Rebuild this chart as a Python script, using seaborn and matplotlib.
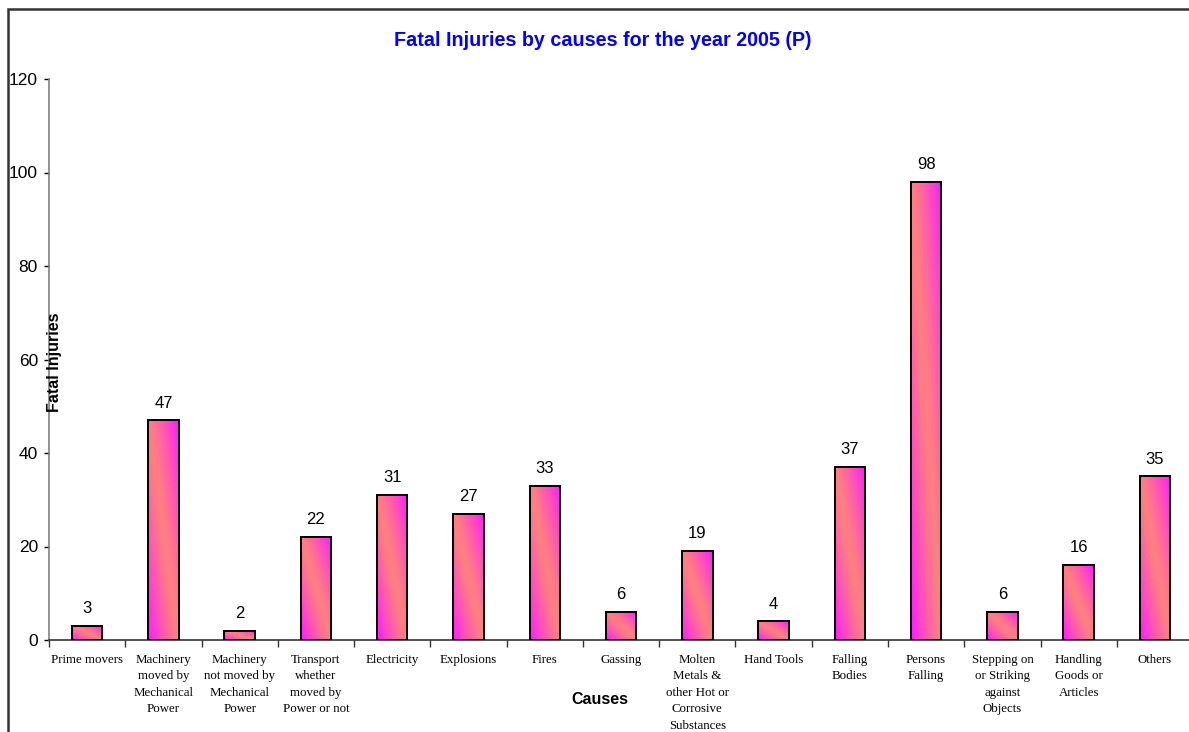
import numpy as np
import pandas as pd
import matplotlib
matplotlib.use("Agg")
import matplotlib.pyplot as plt
from matplotlib.patches import Rectangle
from matplotlib.colors import to_rgb
import seaborn as sns

# Fatal injuries by cause, 2005 (provisional)
causes = [
    "Prime movers",
    "Machinery\nmoved by\nMechanical\nPower",
    "Machinery\nnot moved by\nMechanical\nPower",
    "Transport\nwhether\nmoved by\nPower or not",
    "Electricity",
    "Explosions",
    "Fires",
    "Gassing",
    "Molten\nMetals &\nother Hot or\nCorrosive\nSubstances",
    "Hand Tools",
    "Falling\nBodies",
    "Persons\nFalling",
    "Stepping on\nor Striking\nagainst\nObjects",
    "Handling\nGoods or\nArticles",
    "Others",
]
fatal_injuries = [3, 47, 2, 22, 31, 27, 33, 6, 19, 4, 37, 98, 6, 16, 35]
y_ticks = [0, 20, 40, 60, 80, 100, 120]

SANS = "Liberation Sans"
SERIF = "Liberation Serif"
SALMON = to_rgb("#FF8080")
MAGENTA = to_rgb("#FF1AFF")

df = pd.DataFrame({"cause": causes, "count": fatal_injuries})

W, H = 1189, 732
fig = plt.figure(figsize=(W / 100, H / 100), dpi=100)
fig.patch.set_facecolor("white")

# axes: left spine at x=49 px, category step ~76.3 px (right end runs past the canvas)
ax_left, ax_right = 49, 49 + 15 * 76.27
ax_bottom, ax_top = 640, 79
ax = fig.add_axes([ax_left / W, (H - ax_bottom) / H,
                   (ax_right - ax_left) / W, (ax_bottom - ax_top) / H])

sns.barplot(data=df, x="cause", y="count", ax=ax, width=0.4,
            color="#FF8080", edgecolor="black", linewidth=1.4,
            saturation=1, zorder=3)

# diagonal two-colour gradient fill inside every bar
n = 64
u = np.linspace(0, 1, n)[None, :]
v = np.linspace(0, 1, n)[:, None]
t = np.clip(np.abs(u + v - 1), 0, 1) ** 1.3
grad = (np.array(SALMON)[None, None, :] * (1 - t[..., None])
        + np.array(MAGENTA)[None, None, :] * t[..., None])
for p in ax.patches:
    x0, y0 = p.get_x(), p.get_y()
    w, h = p.get_width(), p.get_height()
    im = ax.imshow(grad, extent=[x0, x0 + w, y0, y0 + h], origin="lower",
                   aspect="auto", zorder=2, interpolation="bilinear")
    im.set_clip_path(p)
    p.set_facecolor("none")
ax.set_xlim(-0.5, len(causes) - 0.5)
ax.set_ylim(0, 120)

# value labels above bars
for i, val in enumerate(fatal_injuries):
    ax.annotate(str(val), (i, val), xytext=(0, 7), textcoords="offset points",
                ha="center", va="bottom", fontsize=12, family=SANS, color="black")

# spines and ticks
for s in ("top", "right"):
    ax.spines[s].set_visible(False)
ax.spines["left"].set_color("#808080")
ax.spines["left"].set_linewidth(1.2)
ax.spines["bottom"].set_color("#333333")
ax.spines["bottom"].set_linewidth(1.2)
ax.set_facecolor("white")

ax.set_yticks(y_ticks)
ax.set_yticklabels([str(v) for v in y_ticks], family=SANS, fontsize=12.5)
ax.tick_params(axis="y", direction="out", length=3.5, width=1, color="black", pad=4.5)

ax.set_xticks(range(len(causes)))
ax.set_xticklabels(causes, family=SERIF, fontsize=9.3, linespacing=1.5, va="top")
ax.set_xticks(np.arange(-0.5, len(causes), 1), minor=True)
ax.tick_params(axis="x", which="major", length=0, pad=10)
ax.tick_params(axis="x", which="minor", direction="out", length=5, width=1, color="#333333")
ax.set_xlabel("")
ax.set_ylabel("")

# titles
fig.text(603 / W, 1 - 41 / H, "Fatal Injuries by causes for the year 2005 (P)",
         ha="center", va="center", color="#0000FF", fontsize=14.2,
         fontweight="bold", family=SANS)
fig.text(600 / W, 1 - 700 / H, "Causes", ha="center", va="center",
         fontsize=11.5, fontweight="bold", family=SANS)
fig.text(54 / W, 1 - 362 / H, "Fatal Injuries", ha="center", va="center",
         rotation=90, fontsize=11.5, fontweight="bold", family=SANS)

# chart-area frame (extends beyond right and bottom edges)
fig.patches.append(Rectangle((8 / W, -0.1), 1.2, 1 - 9 / H + 0.1,
                             transform=fig.transFigure, fill=False,
                             edgecolor="#333333", linewidth=1.8, zorder=10))

fig.savefig("out.png", dpi=100, facecolor="white")
